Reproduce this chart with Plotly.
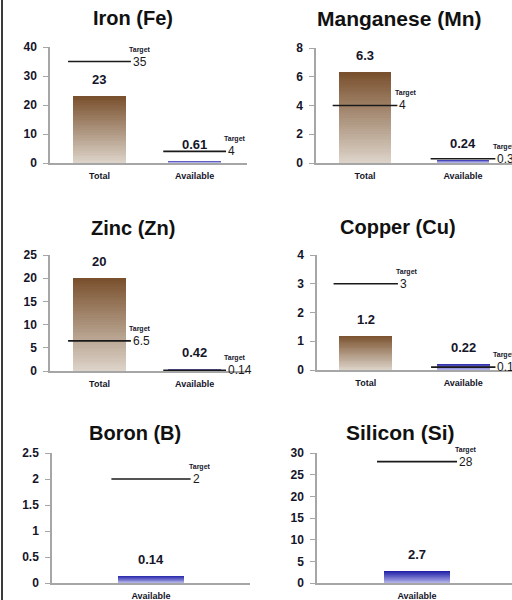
import plotly.graph_objects as go

# Micronutrient levels: measured totals and plant-available fractions vs. targets
elements = ["Iron (Fe)", "Manganese (Mn)", "Zinc (Zn)", "Copper (Cu)", "Boron (B)", "Silicon (Si)"]
title_size = [20, 21, 20, 20, 20, 21]
categories = ["Total", "Available"]
total_values = [23, 6.3, 20, 1.2, None, None]
available_values = [0.61, 0.24, 0.42, 0.22, 0.14, 2.7]
total_targets = [35, 4, 6.5, 3, None, None]
available_targets = [4, 0.3, 0.14, 0.1, 2, 28]
y_max = [40, 8, 25, 4, 2.5, 30]
y_step = [10, 2, 5, 1, 0.5, 5]

W, H = 512, 600

# panel geometry in pixels: (axis left, axis right, y of zero line, y of top tick)
panel_px = [
    (50, 247, 163, 47), (316, 512, 163, 48),
    (50, 247, 371, 255), (317, 512, 370, 255),
    (52, 250, 583, 453), (317, 512, 583, 453),
]
x_ranges = [[-0.52, 1.55], [-0.5, 1.5], [-0.52, 1.55], [-0.5, 1.5], [-0.5, 0.5], [-0.5, 0.475]]
title_pos = [(133, 18), (399, 18), (133, 228), (398, 227), (135, 433), (400, 432)]

BROWN = ((0x7a, 0x51, 0x2e), (0xde, 0xd6, 0xcc))
BLUE = ((0x22, 0x22, 0xa8), (0xb4, 0xb4, 0xea))
TXT = "#15152a"
AX = "#a6a6a6"


def mix(c_top, c_bot, t):
    r, g, b = (round(c_bot[k] + (c_top[k] - c_bot[k]) * t) for k in range(3))
    return f"rgb({r},{g},{b})"


def gradient_bar(xpos, value, width, colors, xa, ya, n=40):
    # nested bars from zero, tallest (darkest) first, so the stack shades upward
    heights = [value * (n - i) / n for i in range(n)]
    cols = [mix(colors[0], colors[1], (n - i) / n) for i in range(n)]
    return go.Bar(
        x=[xpos] * n, y=heights, width=width, xaxis=xa, yaxis=ya,
        marker=dict(color=cols, line=dict(width=0)),
        hoverinfo="skip", showlegend=False,
    )


fig = go.Figure()
annotations = []
layout_axes = {}

for i, name in enumerate(elements):
    k = i + 1
    xa, ya = f"x{k}", f"y{k}"
    xl, xr, y0, y1 = panel_px[i]
    has_total = total_values[i] is not None
    if has_total:
        cats = categories
        vals = [total_values[i], available_values[i]]
        tgts = [total_targets[i], available_targets[i]]
        grads = [BROWN, BLUE]
        bw, half = (0.56 if xl < 100 else 0.54), 0.33
    else:
        cats = ["Available"]
        vals = [available_values[i]]
        tgts = [available_targets[i]]
        grads = [BLUE]
        bw, half = 0.33, 0.2
    xs = list(range(len(cats)))

    for xpos, v, t, g in zip(xs, vals, tgts, grads):
        fig.add_trace(gradient_bar(xpos, v, bw, g, xa, ya))
        # target marker line
        fig.add_trace(go.Scatter(
            x=[xpos - half, xpos + half], y=[t, t], mode="lines",
            line=dict(color="#1a1a1a", width=1.6), xaxis=xa, yaxis=ya,
            hoverinfo="skip", showlegend=False,
        ))
        annotations.append(dict(
            x=xpos + half, y=t, xref=xa, yref=ya, text=f"{t:g}", showarrow=False,
            xanchor="left", yanchor="middle", xshift=0,
            font=dict(family="Liberation Sans", size=12, color="#1a1a1a"),
        ))
        annotations.append(dict(
            x=xpos + half, y=t, xref=xa, yref=ya, text="Target", showarrow=False,
            xanchor="left", yanchor="middle", xshift=-4, yshift=12,
            font=dict(family="Liberation Sans", size=7, color=TXT, weight="bold"),
        ))
        # value label above the bar
        annotations.append(dict(
            x=xpos, y=v, xref=xa, yref=ya, text=f"{v:g}", showarrow=False,
            xanchor="center", yanchor="bottom", yshift=7,
            font=dict(family="Liberation Sans", size=13, color=TXT, weight="bold"),
        ))

    tx, ty = title_pos[i]
    annotations.append(dict(
        x=tx / W, y=1 - ty / H, xref="paper", yref="paper", text=name,
        showarrow=False, xanchor="center", yanchor="middle",
        font=dict(family="Liberation Sans", size=title_size[i], color="#111111",
                  weight="bold"),
    ))

    xkey = "xaxis" if k == 1 else f"xaxis{k}"
    ykey = "yaxis" if k == 1 else f"yaxis{k}"
    layout_axes[xkey] = dict(
        domain=[xl / W, xr / W], anchor=ya, range=x_ranges[i],
        tickvals=xs, ticktext=cats, showline=True, linecolor=AX, linewidth=2,
        ticks="", showgrid=False, zeroline=False, ticklabelstandoff=3,
        tickfont=dict(family="Liberation Sans", size=9, color=TXT, weight="bold"),
        fixedrange=True, automargin=False,
    )
    layout_axes[ykey] = dict(
        domain=[1 - y0 / H, 1 - y1 / H], anchor=xa, range=[0, y_max[i]],
        dtick=y_step[i], tick0=0, showline=True, linecolor=AX, linewidth=1.5,
        ticks="outside", ticklen=5, tickcolor=AX, tickwidth=1.2, showgrid=False,
        zeroline=False, ticklabelstandoff=4,
        tickfont=dict(family="Liberation Sans", size=12, color=TXT, weight="bold"),
        fixedrange=True, automargin=False,
    )

fig.update_layout(
    width=W, height=H, margin=dict(l=0, r=0, t=0, b=0, autoexpand=False),
    paper_bgcolor="white", plot_bgcolor="white",
    barmode="overlay", bargap=0, showlegend=False,
    annotations=annotations,
    shapes=[dict(type="line", xref="paper", yref="paper", x0=2 / W, x1=2 / W,
                 y0=0, y1=1, line=dict(color="#3a3a3a", width=2))],
    **layout_axes,
)

fig.write_html("out.html")
